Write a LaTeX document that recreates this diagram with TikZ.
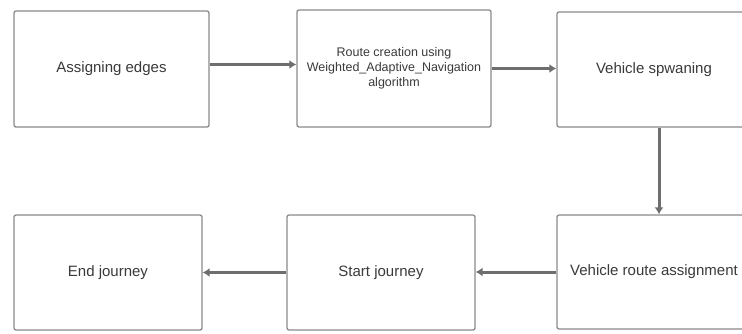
\documentclass[tikz,border=0pt]{standalone}
\usepackage{fontspec}
\setmainfont{Liberation Sans}
\usetikzlibrary{arrows.meta}
\definecolor{boxline}{HTML}{8A8A8A}
\definecolor{arrowc}{HTML}{6E6E70}
\definecolor{txt}{HTML}{3A3A3A}
\begin{document}
\begin{tikzpicture}[x=1pt,y=-1pt,
  box/.style={draw=boxline,line width=1.3pt,rounded corners=2pt,fill=white,
    inner sep=2pt,align=center,text=txt,font=\fontsize{15}{18}\selectfont},
  flow/.style={draw=arrowc,line width=3pt,-{Latex[length=7pt,width=9pt]}}]
\useasboundingbox (0,0) rectangle (742,333);
\clip (0,0) rectangle (742,333);
\node[box,minimum width=195pt,minimum height=116pt] (b1) at (111.5,69) {Assigning edges};
\node[box,minimum width=194pt,minimum height=117pt,font=\fontsize{12.5}{15}\selectfont] (b2) at (394,68.5) {Route creation using\\Weighted\_Adaptive\_Navigation\\algorithm};
\node[box,minimum width=194pt,minimum height=115pt] (b3) at (654,69.5) {Vehicle spwaning};
\node[box,minimum width=194pt,minimum height=114pt] (b4) at (654,272) {Vehicle route assignment};
\node[box,minimum width=188pt,minimum height=115pt] (b5) at (381,272.5) {Start journey};
\node[box,minimum width=188pt,minimum height=115pt] (b6) at (108,272.5) {End journey};
\draw[flow] ([yshift=4.5pt]b1.east) -- ([yshift=4.5pt]b1.east -| b2.west);
\draw[flow] (b2.east) -- (b2.east -| b3.west);
\draw[flow] ([xshift=5pt]b3.south) -- ([xshift=5pt]b3.south |- b4.north);
\draw[flow] (b4.west) -- (b4.west -| b5.east);
\draw[flow] (b5.west) -- (b5.west -| b6.east);
\end{tikzpicture}
\end{document}
